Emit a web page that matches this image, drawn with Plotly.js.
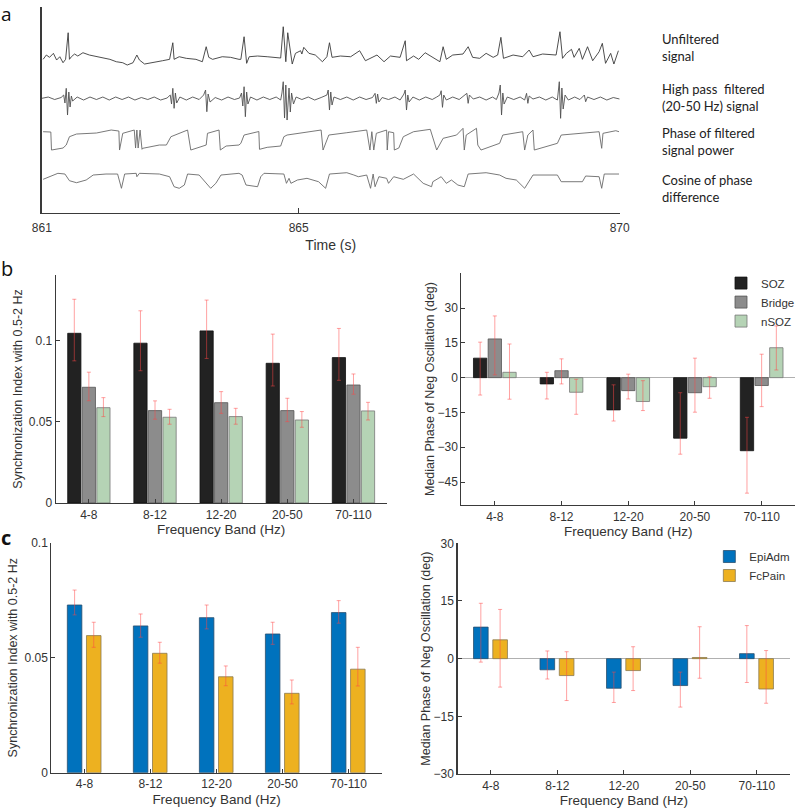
<!DOCTYPE html>
<html>
<head>
<meta charset="utf-8">
<script src="https://cdn.plot.ly/plotly-3.0.1.min.js"></script>
<style>
  html, body { margin: 0; padding: 0; background: #fff; }
  #fig { width: 800px; height: 809px; }
</style>
</head>
<body>
<div id="fig"></div>
<script>
// === PANEL A: segnali (tempo in s, ampiezza in unita' arbitrarie) ===
const rawSignal = [
  [861.02,153.7],[861.07,158],[861.12,155.7],[861.18,159.7],[861.23,153],[861.28,156.3],[861.33,150.3],[861.37,153.7],
  [861.41,180.3],[861.43,153.7],[861.46,156.3],[861.51,159],[861.56,157],[861.64,160.3],[861.74,158],[861.85,156.3],
  [861.95,154.7],[862.06,153.7],[862.16,151.3],[862.26,150.3],[862.33,148],[862.42,150.3],[862.48,158],[862.52,153],
  [862.60,149],[862.73,150.3],[862.88,152.3],[862.99,153.7],[863.04,170.3],[863.06,153.7],[863.14,156.3],[863.25,154.7],
  [863.40,153.7],[863.50,151.3],[863.56,166.3],[863.60,155.7],[863.66,153.7],[863.81,156.3],[863.94,155.7],[864.07,153.7],
  [864.10,153.7],[864.15,176.3],[864.19,149.7],[864.23,156.3],[864.36,157],[864.51,156.3],[864.67,155.7],[864.72,155],
  [864.76,186.3],[864.80,151.3],[864.83,180.3],[864.90,149],[864.95,159.7],[865.03,162.3],[865.05,159],[865.08,165.7],
  [865.16,159.7],[865.26,158],[865.37,151.3],[865.44,156.3],[865.48,170.3],[865.52,155.7],[865.65,157],[865.81,156.3],
  [865.95,162.3],[866.04,152.3],[866.22,158],[866.33,151.3],[866.43,157],[866.58,155.7],[866.66,172.3],[866.68,152.3],
  [866.79,157],[866.87,153.7],[866.97,160.3],[867.07,156.3],[867.20,151.3],[867.25,166.3],[867.30,153.7],[867.40,158],
  [867.56,159],[867.64,166.3],[867.71,155.7],[867.82,154.7],[867.92,159.7],[868.03,155.7],[868.10,158],[868.15,175.7],
  [868.19,154.7],[868.34,158],[868.49,156.3],[868.59,163],[868.65,156.3],[868.80,159],[869.01,158],[869.07,181.3],
  [869.11,154.7],[869.17,159.7],[869.25,163.7],[869.29,155.7],[869.37,164.7],[869.42,153.7],[869.50,166.3],[869.58,152.3],
  [869.68,161.3],[869.73,169.7],[869.78,149.7],[869.86,159.7],[869.91,149],[869.98,162.3]
];

const hpSignal = [
  [861.00,114.7],[861.10,116],[861.20,113.5],[861.30,115.5],[861.34,118],[861.36,110],[861.38,124.7],[861.40,98],
  [861.42,121],[861.44,106],[861.46,117],[861.48,112],[861.55,116],[861.65,113],[861.75,116],[861.85,113.5],
  [861.95,116],[862.05,113],[862.15,116],[862.25,113.5],[862.35,116],[862.45,113],[862.55,115.5],[862.65,113.5],
  [862.75,116],[862.85,113],[862.95,115],[863.00,118],[863.02,109],[863.04,124.7],[863.06,104.7],[863.08,120],
  [863.10,110],[863.15,116],[863.25,113],[863.35,116],[863.45,113.5],[863.52,118],[863.55,123],[863.57,101.3],
  [863.59,119],[863.62,111],[863.70,115.5],[863.80,113],[863.90,116],[864.00,113.5],[864.08,115],[864.11,120],
  [864.13,107],[864.15,126.3],[864.17,96.3],[864.19,121],[864.21,109],[864.25,116],[864.35,113],[864.45,116],
  [864.55,113.5],[864.65,116],[864.72,113],[864.74,120],[864.76,131.3],[864.78,95],[864.80,128],[864.82,93],
  [864.85,125],[864.87,101],[864.89,120],[864.92,109],[864.96,116],[865.05,113.5],[865.15,116],[865.25,113],
  [865.35,115.5],[865.44,118],[865.46,123],[865.48,103],[865.50,121],[865.52,108],[865.55,116],[865.65,113.5],
  [865.75,116],[865.85,113],[865.95,116],[866.05,113.5],[866.15,115.5],[866.19,119.7],[866.21,109.7],[866.23,119],
  [866.25,111],[866.30,115.5],[866.40,113.5],[866.50,116],[866.58,113],[866.64,119],[866.66,123],[866.68,103],
  [866.70,118],[866.72,111],[866.78,116],[866.88,113],[866.98,116],[867.08,113.5],[867.15,116],[867.20,118],
  [867.22,122.3],[867.24,105.7],[867.26,118],[867.30,113],[867.40,116],[867.50,113.5],[867.62,119.7],[867.64,109.7],
  [867.66,118],[867.72,114],[867.82,116],[867.92,113],[868.02,116],[868.08,113.5],[868.12,120],[868.14,128],
  [868.16,98],[868.18,120],[868.20,109],[868.25,116],[868.35,113.5],[868.45,116],[868.52,113],[868.55,119.7],
  [868.57,109.7],[868.59,117],[868.65,114],[868.75,116],[868.85,113],[868.95,116],[869.03,113],[869.04,121],
  [869.06,131.3],[869.08,94.7],[869.10,125],[869.12,104],[869.15,118],[869.20,113],[869.30,116],[869.38,113.5],
  [869.45,118],[869.47,111.3],[869.50,116],[869.60,113.5],[869.70,116],[869.80,113],[869.90,115.5],[870.00,114]
];

const phaseSignal = [
  [861.02,81.3],[861.14,81],[861.15,63],[861.33,65],[861.38,68],[861.43,76.3],[861.54,79],[861.85,80],
  [862.08,83],[862.20,82],[862.21,63],[862.26,79.7],[862.44,83],[862.46,65],[862.48,83],[862.50,65],
  [862.53,83],[862.56,63.7],[862.57,64.7],[862.83,68],[862.94,68],[863.01,76.3],[863.27,83],[863.32,63],
  [863.56,68],[863.58,79.7],[863.76,83],[863.78,63],[863.87,67],[864.07,68],[864.10,69.7],[864.15,78],
  [864.36,81.3],[864.38,81.5],[864.39,63.7],[864.51,65.7],[864.72,67],[864.77,76.3],[864.82,78],[865.03,79.7],
  [865.35,83],[865.38,63],[865.47,78],[865.75,80.3],[866.06,83],[866.11,63],[866.14,81.3],[866.17,63],
  [866.21,79.7],[866.37,83],[866.38,63],[866.40,81.3],[866.48,80.3],[866.49,63],[866.56,65],[866.63,76.3],
  [866.79,81.3],[867.05,83.7],[867.09,75],[867.15,63],[867.25,74.7],[867.46,78],[867.56,84.7],[867.58,63],
  [867.61,78],[867.77,84.7],[867.79,68],[867.84,63],[868.13,69.7],[868.18,78],[868.49,81.3],[868.52,63],
  [868.57,78],[868.65,83],[868.67,63],[869.03,69.7],[869.09,78],[869.47,79.7],[869.68,81.3],[869.72,64.7],
  [869.74,79.7],[869.94,82.3],[869.99,81.3]
];

const cosSignal = [
  [861.02,33.7],[861.12,36.3],[861.25,39.7],[861.36,39],[861.43,32.3],[861.54,30.3],[861.69,33],[861.80,38],
  [862.00,39],[862.18,39],[862.24,24.7],[862.29,39],[862.47,39.7],[862.48,36.3],[862.52,39.7],[862.83,39],
  [862.99,36.3],[863.06,26.3],[863.14,24.7],[863.22,28],[863.27,39],[863.45,38],[863.56,29.7],[863.63,24.7],
  [863.71,29.7],[863.79,38],[864.07,39.7],[864.12,38],[864.18,28],[864.36,26.3],[864.41,36.3],[864.46,39.7],
  [864.77,39],[864.81,29.7],[864.85,34.7],[864.88,29.7],[864.98,33],[865.13,34.7],[865.31,31.3],[865.42,24.7],
  [865.48,39],[865.75,40.3],[865.86,38],[865.93,36.3],[866.06,38],[866.12,24.7],[866.16,39],[866.19,26.3],
  [866.25,36.3],[866.37,34.7],[866.40,29.7],[866.48,36.3],[866.63,33.7],[866.79,39],[866.94,29.7],[867.07,26.3],
  [867.09,31.3],[867.22,36.3],[867.30,29.7],[867.38,33],[867.48,28],[867.58,26.3],[867.64,39],[867.92,40.3],
  [868.13,38],[868.23,34.7],[868.39,33],[868.52,24.7],[868.65,38],[869.03,38],[869.09,31.3],[869.42,31.3],
  [869.47,37],[869.68,36.3],[869.72,24.7],[869.76,39],[869.99,39]
];

// === PANEL B / C: bande di frequenza ===
const bande = ["4-8", "8-12", "12-20", "20-50", "70-110"];

// b sinistra: indice di sincronizzazione
const syncSOZ      = [0.1047, 0.0986, 0.1062, 0.0862, 0.0897];
const syncSOZSu    = [0.021, 0.020, 0.019, 0.018, 0.018];
const syncSOZGiu   = [0.017, 0.017, 0.017, 0.014, 0.014];
const syncBridge    = [0.0714, 0.0570, 0.0619, 0.0570, 0.0728];
const syncBridgeSu  = [0.0093, 0.0060, 0.0068, 0.0076, 0.0068];
const syncBridgeGiu = [0.0083, 0.0053, 0.0066, 0.0068, 0.0057];
const syncNSOZ      = [0.0588, 0.0529, 0.0533, 0.0512, 0.0568];
const syncNSOZSu    = [0.0062, 0.0049, 0.0051, 0.0052, 0.0053];
const syncNSOZGiu   = [0.0055, 0.0043, 0.0047, 0.0045, 0.0056];

// b destra: fase mediana (gradi)
const faseSOZ      = [8.4, -2.7, -13.9, -26.1, -31.5];
const faseSOZSu    = [6.9, 5.0, 10.8, 19.6, 14.4];
const faseSOZGiu   = [15.9, 6.5, 4.8, 6.9, 18.3];
const faseBridge    = [16.7, 3.0, -5.6, -6.5, -3.4];
const faseBridgeSu  = [9.9, 5.1, 7.1, 14.9, 13.5];
const faseBridgeGiu = [15.5, 5.7, 3.6, 8.4, 9.1];
const faseNSOZ      = [2.3, -6.3, -10.3, -3.9, 12.9];
const faseNSOZSu    = [12.2, 5.6, 9.0, 4.3, 9.4];
const faseNSOZGiu   = [11.6, 9.5, 3.9, 5.0, 9.6];

// c sinistra: indice di sincronizzazione
const syncEpi      = [0.0729, 0.0638, 0.0674, 0.0603, 0.0696];
const syncEpiSu    = [0.0065, 0.0052, 0.0055, 0.0051, 0.0052];
const syncEpiGiu   = [0.0043, 0.0049, 0.0049, 0.0045, 0.0046];
const syncPain     = [0.0596, 0.0519, 0.0417, 0.0345, 0.0450];
const syncPainSu   = [0.0058, 0.0048, 0.0047, 0.0058, 0.0095];
const syncPainGiu  = [0.0051, 0.0043, 0.0039, 0.0046, 0.0073];

// c destra: fase mediana (gradi)
const faseEpi      = [8.2, -2.9, -7.7, -7.0, 1.3];
const faseEpiSu    = [6.2, 4.9, 4.2, 3.5, 7.3];
const faseEpiGiu   = [9.1, 2.4, 3.7, 5.6, 7.5];
const fasePain     = [4.9, -4.4, -3.1, 0.3, -7.9];
const fasePainSu   = [7.9, 6.2, 6.2, 8.0, 10.0];
const fasePainGiu  = [12.3, 6.5, 5.2, 5.4, 3.7];

// === STILI ===
const FONT = "Liberation Sans, Arial, sans-serif";
const erroreStile = (su, giu) => ({
  type: "data", symmetric: false, array: su, arrayminus: giu,
  color: "rgba(255,70,70,0.5)", thickness: 1, width: 2
});

function linea(punti, colore) {
  return {
    x: punti.map(p => p[0]), y: punti.map(p => p[1]),
    type: "scatter", mode: "lines", xaxis: "x", yaxis: "y",
    line: { color: colore, width: 0.9 }, showlegend: false, hoverinfo: "skip"
  };
}

function barra(valori, su, giu, nome, colore, bordo, asse, offset, larghezza, legenda, mostra) {
  return {
    x: bande, y: valori, type: "bar", name: nome,
    xaxis: "x" + asse, yaxis: "y" + asse,
    offset: offset, width: larghezza,
    marker: { color: colore, line: { color: bordo, width: 0.8 } },
    error_y: erroreStile(su, giu),
    legend: legenda, showlegend: mostra
  };
}

const traces = [
  linea(rawSignal, "#3a3a3a"),
  linea(hpSignal, "#505050"),
  linea(phaseSignal, "#6a6a6a"),
  linea(cosSignal, "#6a6a6a"),

  barra(syncSOZ, syncSOZSu, syncSOZGiu, "SOZ", "#222222", "#111", 2, -0.32, 0.2, "legend", false),
  barra(syncBridge, syncBridgeSu, syncBridgeGiu, "Bridge", "#8c8c8c", "#555", 2, -0.1, 0.2, "legend", false),
  barra(syncNSOZ, syncNSOZSu, syncNSOZGiu, "nSOZ", "#b5d3b5", "#777", 2, 0.12, 0.2, "legend", false),

  barra(faseSOZ, faseSOZSu, faseSOZGiu, "SOZ", "#222222", "#111", 3, -0.32, 0.2, "legend", true),
  barra(faseBridge, faseBridgeSu, faseBridgeGiu, "Bridge", "#8c8c8c", "#555", 3, -0.1, 0.2, "legend", true),
  barra(faseNSOZ, faseNSOZSu, faseNSOZGiu, "nSOZ", "#b5d3b5", "#777", 3, 0.12, 0.2, "legend", true),

  barra(syncEpi, syncEpiSu, syncEpiGiu, "EpiAdm", "#0072bd", "#2a4f6e", 4, -0.26, 0.22, "legend2", false),
  barra(syncPain, syncPainSu, syncPainGiu, "FcPain", "#edb120", "#8a7a50", 4, 0.03, 0.22, "legend2", false),

  barra(faseEpi, faseEpiSu, faseEpiGiu, "EpiAdm", "#0072bd", "#2a4f6e", 5, -0.26, 0.22, "legend2", true),
  barra(fasePain, fasePainSu, fasePainGiu, "FcPain", "#edb120", "#8a7a50", 5, 0.03, 0.22, "legend2", true)
];

const assi = {
  showline: true, linecolor: "#3a3a3a", linewidth: 1.2,
  ticks: "inside", ticklen: 4, tickcolor: "#3a3a3a",
  tickfont: { family: FONT, size: 12, color: "#333" },
  showgrid: false, zeroline: false, fixedrange: true
};
const titoloY = (t, s) => ({ text: t, font: { family: FONT, size: 12.5, color: "#333" }, standoff: s });
const titoloX = t => ({ text: t, font: { family: FONT, size: 13.5, color: "#333" }, standoff: 4 });

const layout = {
  width: 800, height: 809,
  margin: { l: 0, r: 0, t: 0, b: 0 },
  paper_bgcolor: "#fff", plot_bgcolor: "rgba(0,0,0,0)",
  barmode: "overlay",
  font: { family: FONT, color: "#333" },

  xaxis: Object.assign({}, assi, {
    domain: [0.0525, 0.7775], range: [861, 870], anchor: "y",
    tickvals: [861, 865, 870], ticklen: 5, ticklabelstandoff: 3,
    title: { text: "Time (s)", font: { family: FONT, size: 14, color: "#333" }, standoff: 6 }
  }),
  yaxis: Object.assign({}, assi, {
    domain: [0.7367, 0.9913], range: [0, 206], anchor: "x",
    ticks: "", showticklabels: false, linewidth: 1.6
  }),

  xaxis2: Object.assign({}, assi, {
    domain: [0.07, 0.485], range: [-0.5, 4.5], type: "category", anchor: "y2",
    title: titoloX("Frequency Band (Hz)")
  }),
  yaxis2: Object.assign({}, assi, {
    domain: [0.3783, 0.6601], range: [0, 0.1407], anchor: "x2",
    tickvals: [0, 0.05, 0.1], ticktext: ["0", "0.05", "0.1"],
    title: titoloY("Synchronization Index with 0.5-2 Hz", 3)
  }),

  xaxis3: Object.assign({}, assi, {
    domain: [0.579, 0.9975], range: [-0.5, 4.5], type: "category", anchor: "y3",
    title: titoloX("Frequency Band (Hz)")
  }),
  yaxis3: Object.assign({}, assi, {
    domain: [0.3758, 0.6625], range: [-54.9, 45.1], anchor: "x3",
    tickvals: [-45, -30, -15, 0, 15, 30],
    zeroline: true, zerolinecolor: "#b0b0b0", zerolinewidth: 1,
    title: titoloY("Median Phase of Neg Oscillation (deg)", 0)
  }),

  xaxis4: Object.assign({}, assi, {
    domain: [0.0646, 0.4788], range: [-0.5, 4.5], type: "category", anchor: "y4",
    title: titoloX("Frequency Band (Hz)")
  }),
  yaxis4: Object.assign({}, assi, {
    domain: [0.0449, 0.3292], range: [0, 0.1], anchor: "x4",
    tickvals: [0, 0.05, 0.1], ticktext: ["0", "0.05", "0.1"],
    title: titoloY("Synchronization Index with 0.5-2 Hz", 4)
  }),

  xaxis5: Object.assign({}, assi, {
    domain: [0.5741, 0.9913], range: [-0.5, 4.5], type: "category", anchor: "y5",
    title: titoloX("Frequency Band (Hz)")
  }),
  yaxis5: Object.assign({}, assi, {
    domain: [0.0433, 0.3284], range: [-30, 30], anchor: "x5",
    tickvals: [-30, -15, 0, 15, 30],
    zeroline: true, zerolinecolor: "#b0b0b0", zerolinewidth: 1,
    title: titoloY("Median Phase of Neg Oscillation (deg)", 0)
  }),

  legend: {
    x: 0.905, y: 0.668, xanchor: "left", yanchor: "top",
    bgcolor: "rgba(0,0,0,0)", font: { family: FONT, size: 11.5, color: "#333" },
    itemwidth: 30, tracegroupgap: 0, traceorder: "normal"
  },
  legend2: {
    x: 0.89, y: 0.330, xanchor: "left", yanchor: "top",
    bgcolor: "rgba(0,0,0,0)", font: { family: FONT, size: 11.5, color: "#333" },
    itemwidth: 30, tracegroupgap: 0, traceorder: "normal"
  },

  annotations: [
    { text: "a", x: 0.0, y: 1.0, xref: "paper", yref: "paper", xanchor: "left", yanchor: "top",
      showarrow: false, borderpad: 0, font: { family: "Open Sans, sans-serif", size: 19, color: "#111" } },
    { text: "b", x: 0.0, y: 0.686, xref: "paper", yref: "paper", xanchor: "left", yanchor: "top",
      showarrow: false, borderpad: 0, font: { family: "Open Sans, sans-serif", size: 20, color: "#111" } },
    { text: "<b>c</b>", x: 0.0, y: 0.354, xref: "paper", yref: "paper", xanchor: "left", yanchor: "top",
      showarrow: false, borderpad: 0, font: { family: "Open Sans, sans-serif", size: 20, color: "#111" } }
  ]
};

// etichette delle tracce a destra del pannello a
const etichette = [
  ["Unfiltered<br>signal", 48],
  ["High pass  filtered<br>(20-50 Hz) signal", 97],
  ["Phase of filtered<br>signal power", 142],
  ["Cosine of phase<br>difference", 188]
];
etichette.forEach(([testo, yPx]) => {
  layout.annotations.push({
    text: testo, x: 0.828, y: 1 - yPx / 809, xref: "paper", yref: "paper",
    xanchor: "left", yanchor: "middle", align: "left", showarrow: false,
    font: { family: "Lato, Open Sans, sans-serif", size: 13, color: "#222" }
  });
});

Plotly.newPlot("fig", traces, layout, { staticPlot: true });
</script>
</body>
</html>
